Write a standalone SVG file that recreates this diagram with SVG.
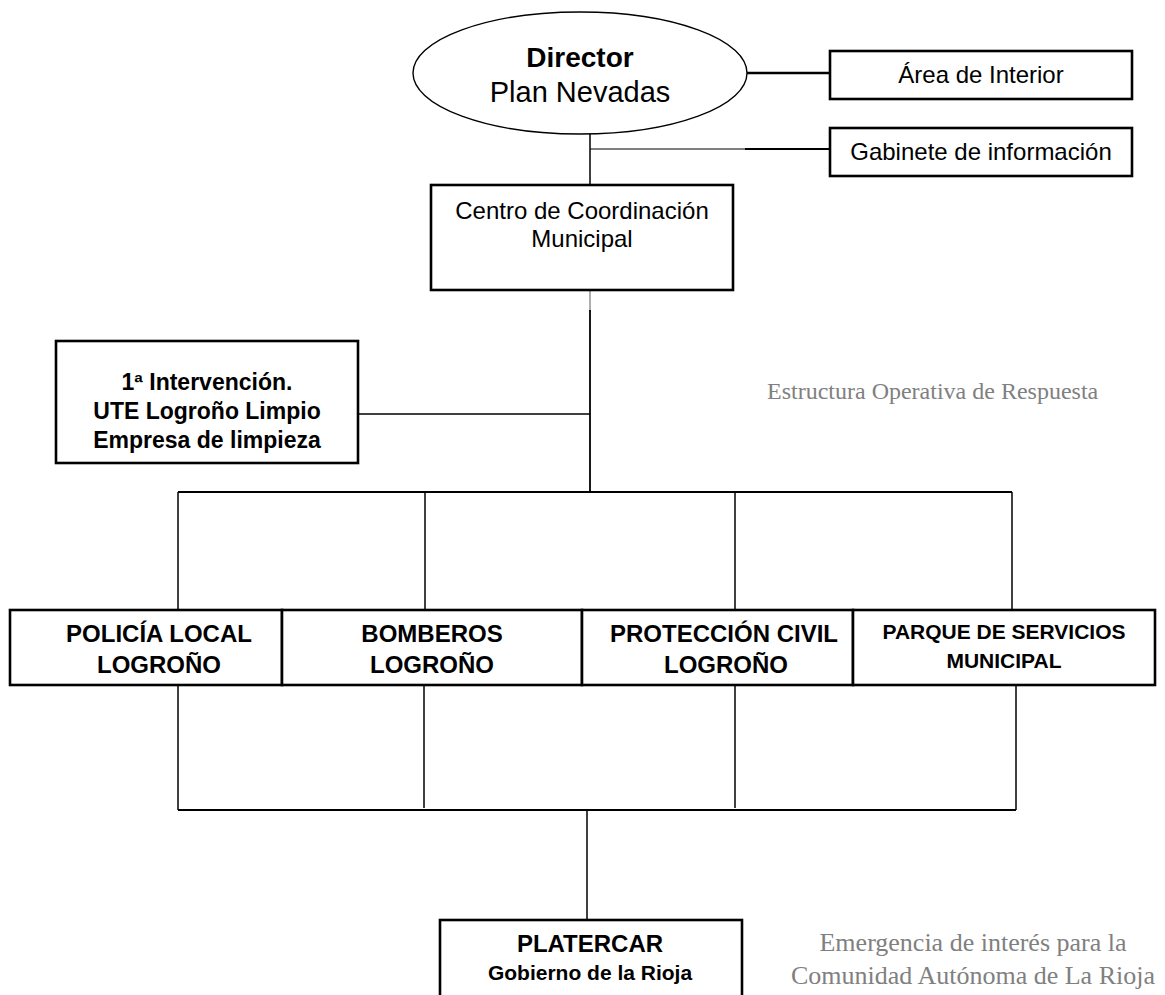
<svg xmlns="http://www.w3.org/2000/svg" width="1165" height="995" viewBox="0 0 1165 995">
<style>
.box{fill:#fff;stroke:#000;stroke-width:2.6}
.ln{stroke:#000;stroke-width:1.5;fill:none}
.lnb{stroke:#000;stroke-width:2.4;fill:none}
.t{font-family:"Liberation Sans",Arial,sans-serif;fill:#000;text-anchor:middle}
.b{font-weight:bold}
.s{font-family:"Liberation Serif","Times New Roman",serif;fill:#808080}
</style>
<defs>
<clipPath id="c1"><rect x="56" y="341" width="302" height="112"/></clipPath>
</defs>
<rect width="1165" height="995" fill="#fff"/>
<g id="connectors">
<line class="lnb" x1="747" y1="73" x2="830" y2="73"/>
<line class="ln" x1="590" y1="134" x2="590" y2="185"/>
<line class="ln" x1="590" y1="149" x2="745" y2="149" style="stroke-width:1.2"/>
<line class="ln" x1="745" y1="149" x2="830" y2="149" style="stroke-width:2"/>
<line class="ln" x1="590" y1="290" x2="590" y2="312" style="stroke:#777;stroke-width:1.2"/>
<line class="ln" x1="590" y1="310" x2="590" y2="492" style="stroke-width:1.8"/>
<line class="ln" x1="358" y1="414" x2="590" y2="414"/>
<line class="ln" x1="178" y1="492" x2="1012" y2="492" style="stroke-width:2"/>
<line class="ln" x1="178" y1="492" x2="178" y2="610"/>
<line class="ln" x1="425" y1="492" x2="425" y2="610"/>
<line class="ln" x1="735" y1="492" x2="735" y2="610"/>
<line class="ln" x1="1012" y1="492" x2="1012" y2="610"/>
<line class="ln" x1="178" y1="685" x2="178" y2="810"/>
<line class="ln" x1="424" y1="685" x2="424" y2="808"/>
<line class="ln" x1="735" y1="685" x2="735" y2="808"/>
<line class="ln" x1="1016" y1="685" x2="1016" y2="810"/>
<line class="ln" x1="178" y1="810" x2="1016" y2="810" style="stroke-width:2.2"/>
<line class="ln" x1="587" y1="810" x2="587" y2="920"/>
</g>
<g id="director">
<ellipse cx="580" cy="73" rx="167" ry="61" fill="#fff" stroke="#000" stroke-width="1.4"/>
<text class="t b" x="580" y="67" font-size="28">Director</text>
<text class="t" x="580" y="102" font-size="29">Plan Nevadas</text>
</g>
<g id="area-interior">
<rect class="box" x="830" y="51" width="302" height="48"/>
<text class="t" x="981" y="83" font-size="24">Área de Interior</text>
</g>
<g id="gabinete">
<rect class="box" x="830" y="128" width="302" height="48"/>
<text class="t" x="981" y="160" font-size="24">Gabinete de información</text>
</g>
<g id="centro">
<rect class="box" x="431" y="185" width="302" height="105"/>
<text class="t" x="582" y="219" font-size="24">Centro de Coordinación</text>
<text class="t" x="582" y="247" font-size="24">Municipal</text>
</g>
<g id="intervencion">
<rect class="box" x="56" y="341" width="302" height="122"/>
<g clip-path="url(#c1)">
<text class="t b" x="207" y="390" font-size="23">1ª Intervención.</text>
<text class="t b" x="207" y="419" font-size="23">UTE Logroño Limpio</text>
<text class="t b" x="207" y="448" font-size="23">Empresa de limpieza</text>
</g>
</g>
<g id="policia">
<rect class="box" x="10" y="610" width="272" height="75"/>
<text class="t b" x="159" y="642" font-size="24">POLICÍA LOCAL</text>
<text class="t b" x="159" y="673" font-size="24">LOGROÑO</text>
</g>
<g id="bomberos">
<rect class="box" x="282" y="610" width="300" height="75"/>
<text class="t b" x="432" y="642" font-size="24">BOMBEROS</text>
<text class="t b" x="432" y="673" font-size="24">LOGROÑO</text>
</g>
<g id="proteccion">
<rect class="box" x="582" y="610" width="271" height="75"/>
<text class="t b" x="724" y="642" font-size="24">PROTECCIÓN CIVIL</text>
<text class="t b" x="726" y="673" font-size="24">LOGROÑO</text>
</g>
<g id="parque">
<rect class="box" x="853" y="610" width="302" height="75"/>
<text class="t b" x="1004" y="639" font-size="21">PARQUE DE SERVICIOS</text>
<text class="t b" x="1004" y="668" font-size="21">MUNICIPAL</text>
</g>
<g id="platercar">
<rect class="box" x="440" y="920" width="302" height="80"/>
<text class="t b" x="590" y="952" font-size="24">PLATERCAR</text>
<text class="t b" x="590" y="980" font-size="21">Gobierno de la Rioja</text>
</g>
<g id="labels">
<text class="s" x="767" y="399" font-size="24">Estructura Operativa de Respuesta</text>
<text class="s" x="973" y="951" font-size="26" text-anchor="middle">Emergencia de interés para la</text>
<text class="s" x="973" y="984" font-size="26" text-anchor="middle">Comunidad Autónoma de La Rioja</text>
</g>
</svg>
